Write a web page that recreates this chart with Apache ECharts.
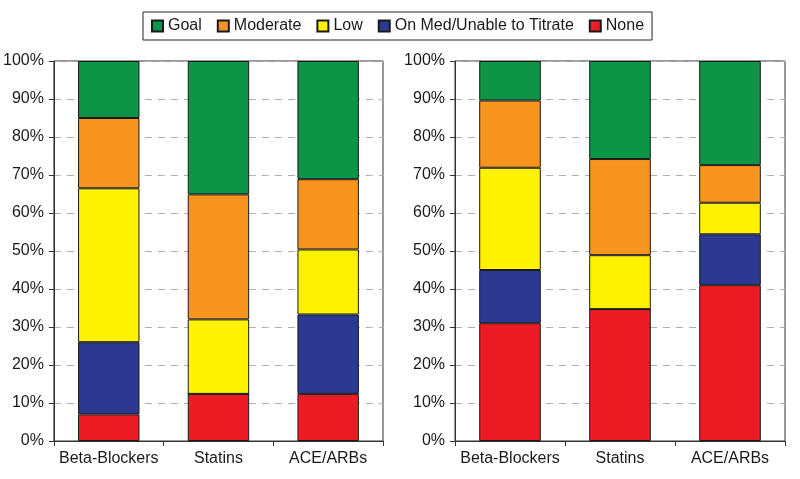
<!DOCTYPE html>
<html>
<head>
<meta charset="utf-8">
<script src="https://cdn.jsdelivr.net/npm/echarts@6/dist/echarts.min.js"></script>
<style>html,body{margin:0;padding:0;background:#fff}#c{width:800px;height:479px}</style>
</head>
<body>
<div id="c"></div>
<script>
const categories = ['Beta-Blockers', 'Statins', 'ACE/ARBs'];
const seriesNames = ['Goal', 'Moderate', 'Low', 'On Med/Unable to Titrate', 'None'];
const yTicks = [0, 10, 20, 30, 40, 50, 60, 70, 80, 90, 100];

// Left panel (percent)
const leftNone     = [7.0, 12.4, 12.4];
const leftOnMed    = [19.0, 0, 20.9];
const leftLow      = [40.5, 19.6, 17.1];
const leftModerate = [18.5, 32.9, 18.5];
const leftGoal     = [15.0, 35.1, 31.1];

// Right panel (percent)
const rightNone     = [31.0, 34.7, 41.0];
const rightOnMed    = [14.0, 0, 13.4];
const rightLow      = [26.9, 14.2, 8.3];
const rightModerate = [17.7, 25.3, 9.9];
const rightGoal     = [10.4, 25.8, 27.4];

const colors = {
  'Goal': '#0e9447',
  'Moderate': '#f7941d',
  'Low': '#fff200',
  'On Med/Unable to Titrate': '#2b3990',
  'None': '#ed1c24'
};

const font = 'Liberation Sans, Arial, Helvetica, sans-serif';
const textColor = '#1a1a1a';

function mkX(idx) {
  return {
    type: 'category', gridIndex: idx, data: categories,
    axisLine: { show: true, lineStyle: { color: '#333', width: 1 } },
    axisTick: { show: true, length: 5, lineStyle: { color: '#333' } },
    axisLabel: { interval: 0, fontSize: 16, fontFamily: font, color: textColor, margin: 10 }
  };
}
function mkY(idx) {
  return {
    type: 'value', gridIndex: idx, min: yTicks[0], max: yTicks[yTicks.length - 1], interval: 10,
    axisLine: { show: true, lineStyle: { color: '#333', width: 1 } },
    axisTick: { show: true, length: 5, lineStyle: { color: '#333' } },
    axisLabel: { fontSize: 16, fontFamily: font, color: textColor, margin: 10, formatter: '{value}%' },
    splitLine: { show: true, lineStyle: { color: '#b0b0b0', type: [7, 6], width: 1 } }
  };
}

const stackOrderLeft = [
  ['None', leftNone], ['On Med/Unable to Titrate', leftOnMed], ['Low', leftLow],
  ['Moderate', leftModerate], ['Goal', leftGoal]
];
const stackOrderRight = [
  ['None', rightNone], ['On Med/Unable to Titrate', rightOnMed], ['Low', rightLow],
  ['Moderate', rightModerate], ['Goal', rightGoal]
];

const series = [];
[[stackOrderLeft, 0], [stackOrderRight, 1]].forEach(([order, gi]) => {
  order.forEach(([name, vals]) => {
    series.push({
      name: name, type: 'bar', stack: 'p' + gi,
      xAxisIndex: gi, yAxisIndex: gi,
      data: vals, barWidth: '56%',
      itemStyle: { color: colors[name], borderColor: '#1a1a1a', borderWidth: 1 },
      emphasis: { disabled: true },
      animation: false
    });
  });
});

const chart = echarts.init(document.getElementById('c'), null, { renderer: 'canvas' });
chart.setOption({
  animation: false,
  backgroundColor: '#fff',
  legend: {
    data: seriesNames,
    left: 143, top: 12,
    padding: [6, 8, 6, 8],
    itemGap: 15, itemWidth: 11, itemHeight: 11,
    borderColor: '#222', borderWidth: 1, borderRadius: 0,
    icon: 'rect',
    textStyle: { fontSize: 16, fontFamily: font, color: textColor },
    selectedMode: false
  },
  grid: [
    { left: 53, right: 417, top: 61, bottom: 38, show: true, borderColor: '#333', borderWidth: 1, containLabel: false },
    { left: 455, right: 15, top: 61, bottom: 38, show: true, borderColor: '#333', borderWidth: 1, containLabel: false }
  ],
  xAxis: [mkX(0), mkX(1)],
  yAxis: [mkY(0), mkY(1)],
  series: series
});
</script>
</body>
</html>
